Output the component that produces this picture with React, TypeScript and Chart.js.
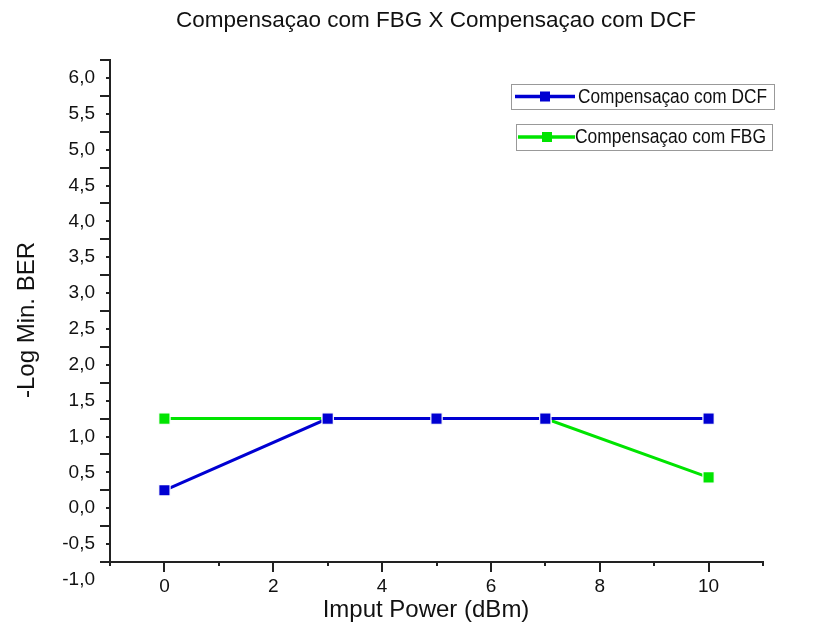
import React, { useEffect, useRef } from 'react';
import { Chart, registerables } from 'chart.js';

Chart.register(...registerables);

const chartTitle = 'Compensaçao com FBG X Compensaçao com DCF';
const xAxisTitle = 'Imput Power (dBm)';
const yAxisTitle = '-Log Min. BER';

const inputPower = [0, 3, 5, 7, 10];
const berDCF = [0.25, 1.25, 1.25, 1.25, 1.25];
const berFBG = [1.25, 1.25, 1.25, 1.25, 0.43];

const seriesLabels = ['Compensaçao com DCF', 'Compensaçao com FBG'];
const seriesColors = ['#0000D2', '#00E400'];

const xTickValues = [0, 2, 4, 6, 8, 10];
const yTickValues = [-1, -0.5, 0, 0.5, 1, 1.5, 2, 2.5, 3, 3.5, 4, 4.5, 5, 5.5, 6];
const yTickLabels = ['-1,0', '-0,5', '0,0', '0,5', '1,0', '1,5', '2,0', '2,5', '3,0', '3,5', '4,0', '4,5', '5,0', '5,5', '6,0'];

const FONT = '"Liberation Sans", Arial, sans-serif';
const AXIS_COLOR = '#222';
const TEXT_COLOR = '#111';

const decorPlugin = {
  id: 'decor',
  afterDraw(chart: any) {
    const ctx = chart.ctx as CanvasRenderingContext2D;
    const xs = chart.scales.x;
    const ys = chart.scales.y;
    const area = chart.chartArea;
    ctx.save();
    ctx.strokeStyle = AXIS_COLOR;
    ctx.lineWidth = 2;
    for (let v = ys.min; v <= ys.max + 1e-9; v += 0.25) {
      const py = Math.round(ys.getPixelForValue(v));
      const major = Math.abs(v * 2 - Math.round(v * 2)) < 1e-6;
      const len = major ? 4 : 10;
      ctx.beginPath();
      ctx.moveTo(area.left, py);
      ctx.lineTo(area.left - len, py);
      ctx.stroke();
    }
    for (let v = xs.min; v <= xs.max + 1e-9; v += 1) {
      const px = Math.round(xs.getPixelForValue(v));
      const major = Math.abs(Math.round(v) % 2) === 0;
      const len = major ? 10 : 4;
      ctx.beginPath();
      ctx.moveTo(px, area.bottom);
      ctx.lineTo(px, area.bottom + len);
      ctx.stroke();
    }

    ctx.fillStyle = TEXT_COLOR;
    ctx.textAlign = 'center';
    ctx.textBaseline = 'middle';
    ctx.font = `22.5px ${FONT}`;
    ctx.fillText(chartTitle, 436, 21);
    ctx.font = `24px ${FONT}`;
    ctx.fillText(xAxisTitle, 426, 610);
    ctx.save();
    ctx.translate(27, 320);
    ctx.rotate(-Math.PI / 2);
    ctx.font = `24px ${FONT}`;
    ctx.fillText(yAxisTitle, 0, 0);
    ctx.restore();

    const boxes = [
      { x: 511, y: 84, w: 263, h: 25, lx0: 515, lx1: 575, mx: 545, tx: 578, tw: 189 },
      { x: 516, y: 124, w: 256, h: 26, lx0: 518, lx1: 575, mx: 547, tx: 575, tw: 191 },
    ];
    chart.data.datasets.forEach((ds: any, i: number) => {
      const b = boxes[i];
      const cy = b.y + b.h / 2;
      ctx.strokeStyle = '#999';
      ctx.lineWidth = 1;
      ctx.strokeRect(b.x + 0.5, b.y + 0.5, b.w, b.h);
      ctx.strokeStyle = ds.borderColor;
      ctx.lineWidth = 3.5;
      ctx.beginPath();
      ctx.moveTo(b.lx0, cy);
      ctx.lineTo(b.lx1, cy);
      ctx.stroke();
      ctx.fillStyle = ds.borderColor;
      ctx.fillRect(b.mx - 5, cy - 5, 10, 10);
      ctx.fillStyle = TEXT_COLOR;
      ctx.textAlign = 'left';
      ctx.textBaseline = 'middle';
      ctx.font = `19.5px ${FONT}`;
      const natural = ctx.measureText(ds.label).width;
      const sx = natural > 0 ? Math.min(1, b.tw / natural) : 1;
      ctx.save();
      ctx.translate(b.tx, cy + 1);
      ctx.scale(sx, 1);
      ctx.fillText(ds.label, 0, 0);
      ctx.restore();
    });
    ctx.restore();
  },
};

export default function App() {
  const canvasRef = useRef<HTMLCanvasElement | null>(null);

  useEffect(() => {
    document.body.style.margin = '0';
    const canvas = canvasRef.current;
    if (!canvas) return;
    const makeDataset = (label: string, values: number[], color: string) => ({
      label,
      data: inputPower.map((x, i) => ({ x, y: values[i] })),
      borderColor: color,
      backgroundColor: color,
      borderWidth: 3,
      pointStyle: 'rect',
      pointRadius: 8,
      pointBorderWidth: 1.2,
      pointBorderColor: '#ffffff',
      pointBackgroundColor: color,
      tension: 0,
    });
    const chart = new Chart(canvas, {
      type: 'line',
      data: {
        datasets: [
          makeDataset(seriesLabels[0], berDCF, seriesColors[0]),
          makeDataset(seriesLabels[1], berFBG, seriesColors[1]),
        ],
      },
      options: {
        animation: false,
        responsive: false,
        events: [],
        layout: { padding: { top: 60, right: 71, left: 0, bottom: 0 } },
        plugins: {
          legend: { display: false },
          title: { display: false },
          tooltip: { enabled: false },
        },
        scales: {
          x: {
            type: 'linear',
            min: -1,
            max: 11,
            grid: { display: false, drawTicks: false },
            border: { display: true, color: AXIS_COLOR, width: 2 },
            afterBuildTicks: (scale: any) => {
              scale.ticks = xTickValues.map((v) => ({ value: v }));
            },
            afterFit: (scale: any) => {
              scale.height = 68;
            },
            ticks: {
              autoSkip: false,
              maxRotation: 0,
              padding: 13,
              color: TEXT_COLOR,
              font: { family: FONT, size: 19 },
              callback: (value: any) => String(value),
            },
          },
          y: {
            type: 'linear',
            min: -0.75,
            max: 6.25,
            grid: { display: false, drawTicks: false },
            border: { display: true, color: AXIS_COLOR, width: 2 },
            afterBuildTicks: (scale: any) => {
              scale.ticks = yTickValues.map((v) => ({ value: v }));
            },
            afterFit: (scale: any) => {
              scale.width = 110;
            },
            ticks: {
              autoSkip: false,
              padding: 15,
              color: TEXT_COLOR,
              font: { family: FONT, size: 19 },
              callback: (value: any) => {
                const i = yTickValues.indexOf(Number(value));
                return i >= 0 ? yTickLabels[i] : '';
              },
            },
          },
        },
      },
      plugins: [decorPlugin],
    });
    return () => chart.destroy();
  }, []);

  return (
    <div style={{ width: 834, height: 630, background: '#fff' }}>
      <canvas ref={canvasRef} width={834} height={630} style={{ display: 'block' }} />
    </div>
  );
}
